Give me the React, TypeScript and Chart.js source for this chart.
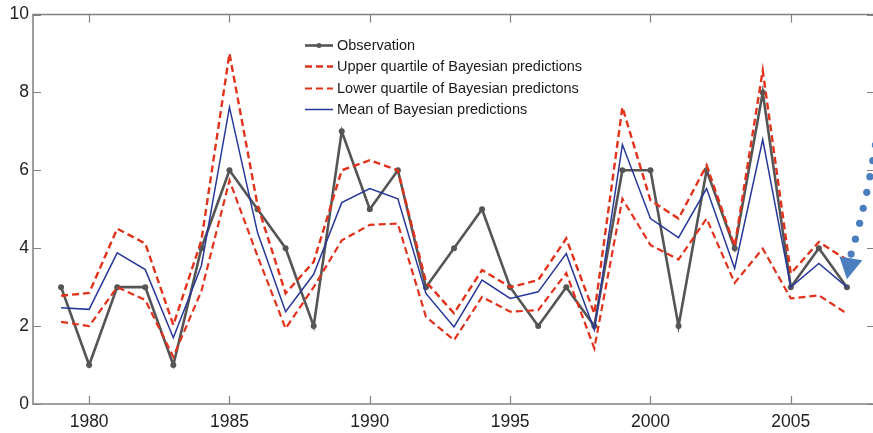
import { useEffect, useRef } from "react";
import { Chart, registerables } from "chart.js";

Chart.register(...registerables);

const years = [
  1979, 1980, 1981, 1982, 1983, 1984, 1985, 1986, 1987, 1988, 1989, 1990, 1991, 1992, 1993,
  1994, 1995, 1996, 1997, 1998, 1999, 2000, 2001, 2002, 2003, 2004, 2005, 2006, 2007,
];
const observation = [3, 1, 3, 3, 1, 4, 6, 5, 4, 2, 7, 5, 6, 3, 4, 5, 3, 2, 3, 2, 6, 6, 2, 6, 4, 8, 3, 4, 3];
const upperQuartile = [
  2.78, 2.85, 4.5, 4.12, 2.03, 4.2, 9.0, 5.1, 2.84, 3.65, 6.0, 6.26, 6.0, 3.14, 2.33, 3.44,
  3.0, 3.18, 4.25, 2.32, 7.62, 5.23, 4.76, 6.13, 4.05, 8.56, 3.35, 4.16, 3.7,
];
const lowerQuartile = [
  2.11, 2.0, 3.0, 2.67, 1.21, 2.9, 5.74, 3.8, 1.94, 3.0, 4.2, 4.6, 4.63, 2.24, 1.64, 2.75,
  2.37, 2.41, 3.36, 1.43, 5.27, 4.08, 3.71, 4.76, 3.11, 3.99, 2.71, 2.79, 2.32,
];
const meanPrediction = [
  2.47, 2.43, 3.88, 3.45, 1.7, 3.55, 7.62, 4.4, 2.37, 3.33, 5.17, 5.53, 5.27, 2.84, 1.98, 3.18,
  2.71, 2.88, 3.86, 1.9, 6.66, 4.76, 4.27, 5.53, 3.48, 6.79, 3.0, 3.61, 3.0,
];
const seriesLabels = [
  "Observation",
  "Upper quartile of Bayesian predictions",
  "Lower quartile of Bayesian predictons",
  "Mean of Bayesian predictions",
];
const xTicks = [1980, 1985, 1990, 1995, 2000, 2005];
const yTicks = [0, 2, 4, 6, 8, 10];

// annotation arrow (data coordinates): quadratic curve of dots + arrow head
const arrowCurve = [
  [2008.18, 7.49],
  [2007.83, 5.49],
  [2007.15, 3.85],
];
const arrowHead = [
  [2006.73, 3.79],
  [2007.55, 3.69],
  [2007.0, 3.2],
];

const FONT = '"Liberation Sans", Arial, sans-serif';
const AXIS_COLOR = "#808080";

const toPts = (vals: number[]) => years.map((y, i) => ({ x: y, y: vals[i] }));

const boxPlugin = {
  id: "boxPlugin",
  beforeDatasetsDraw(chart: any) {
    const { ctx, chartArea: a, scales } = chart;
    const xs = scales.x;
    const ys = scales.y;
    ctx.save();
    ctx.strokeStyle = AXIS_COLOR;
    ctx.lineWidth = 1.5;
    ctx.strokeRect(a.left, a.top, a.right - a.left, a.bottom - a.top);
    ctx.lineWidth = 1.2;
    ctx.beginPath();
    const tl = 8;
    for (const t of xTicks) {
      const px = Math.round(xs.getPixelForValue(t)) + 0.5;
      ctx.moveTo(px, a.bottom);
      ctx.lineTo(px, a.bottom - tl);
      ctx.moveTo(px, a.top);
      ctx.lineTo(px, a.top + tl);
    }
    for (const t of yTicks) {
      const py = Math.round(ys.getPixelForValue(t)) + 0.5;
      ctx.moveTo(a.left, py);
      ctx.lineTo(a.left + tl, py);
      ctx.moveTo(a.right, py);
      ctx.lineTo(a.right - tl, py);
    }
    ctx.stroke();
    ctx.restore();
  },
  afterDraw(chart: any) {
    const { ctx, chartArea: a, scales } = chart;
    const xs = scales.x;
    const ys = scales.y;
    // legend
    ctx.save();
    const x0 = a.left + 272;
    const len = 28;
    const tx = a.left + 304;
    let y = a.top + 30;
    const rowH = 21.6;
    chart.data.datasets.forEach((ds: any, i: number) => {
      const yy = Math.round(y + i * rowH) + 0.5;
      ctx.strokeStyle = ds.borderColor;
      ctx.lineWidth = ds.borderWidth;
      ctx.setLineDash(ds.borderDash || []);
      ctx.beginPath();
      ctx.moveTo(x0, yy);
      ctx.lineTo(x0 + len, yy);
      ctx.stroke();
      ctx.setLineDash([]);
      if (ds.pointRadius > 0) {
        ctx.fillStyle = ds.pointBackgroundColor;
        ctx.beginPath();
        ctx.arc(x0 + len / 2, yy, 2.5, 0, Math.PI * 2);
        ctx.fill();
      }
      ctx.fillStyle = "#1a1a1a";
      ctx.font = `14.5px ${FONT}`;
      ctx.textBaseline = "middle";
      ctx.textAlign = "left";
      ctx.fillText(ds.label, tx, yy + 0.5);
    });
    ctx.restore();

    // arrow annotation
    ctx.save();
    const p = arrowCurve.map(([vx, vy]) => [xs.getPixelForValue(vx), ys.getPixelForValue(vy)]);
    const bez = (t: number) => [
      (1 - t) * (1 - t) * p[0][0] + 2 * (1 - t) * t * p[1][0] + t * t * p[2][0],
      (1 - t) * (1 - t) * p[0][1] + 2 * (1 - t) * t * p[1][1] + t * t * p[2][1],
    ];
    // approximate length
    let L = 0;
    let prev = bez(0);
    const N = 200;
    const cum: number[] = [0];
    for (let k = 1; k <= N; k++) {
      const q = bez(k / N);
      L += Math.hypot(q[0] - prev[0], q[1] - prev[1]);
      cum.push(L);
      prev = q;
    }
    const spacing = 16;
    ctx.fillStyle = "#4a7ebf";
    for (let d = L; d >= 0; d -= spacing) {
      let k = 0;
      while (k < N && cum[k] < d) k++;
      const q = bez(k / N);
      ctx.beginPath();
      ctx.arc(q[0], q[1], 3.6, 0, Math.PI * 2);
      ctx.fill();
    }
    const h = arrowHead.map(([vx, vy]) => [xs.getPixelForValue(vx), ys.getPixelForValue(vy)]);
    ctx.beginPath();
    ctx.moveTo(h[0][0], h[0][1]);
    ctx.lineTo(h[1][0], h[1][1]);
    ctx.lineTo(h[2][0], h[2][1]);
    ctx.closePath();
    ctx.fill();
    ctx.restore();
  },
};

export default function App() {
  const ref = useRef<HTMLCanvasElement | null>(null);

  useEffect(() => {
    document.body.style.margin = "0";
    document.body.style.overflow = "hidden";
    document.documentElement.style.overflow = "hidden";
    const canvas = ref.current;
    if (!canvas) return;
    const chart = new Chart(canvas, {
      type: "line",
      data: {
        datasets: [
          {
            label: seriesLabels[0],
            data: toPts(observation),
            borderColor: "#555555",
            backgroundColor: "#555555",
            borderWidth: 2.6,
            pointRadius: 3,
            pointBackgroundColor: "#555555",
            pointBorderWidth: 0,
            tension: 0,
            order: 3,
          },
          {
            label: seriesLabels[1],
            data: toPts(upperQuartile),
            borderColor: "#e2321c",
            backgroundColor: "#e2321c",
            borderWidth: 2.4,
            borderDash: [7, 4],
            pointRadius: 0,
            tension: 0,
            order: 2,
          },
          {
            label: seriesLabels[2],
            data: toPts(lowerQuartile),
            borderColor: "#e2321c",
            backgroundColor: "#e2321c",
            borderWidth: 2.2,
            borderDash: [7, 4],
            pointRadius: 0,
            tension: 0,
            order: 2,
          },
          {
            label: seriesLabels[3],
            data: toPts(meanPrediction),
            borderColor: "#27379a",
            backgroundColor: "#27379a",
            borderWidth: 1.5,
            pointRadius: 0,
            tension: 0,
            order: 1,
          },
        ],
      },
      options: {
        animation: false,
        responsive: false,
        maintainAspectRatio: false,
        layout: { padding: { top: 13, right: 5, left: 0, bottom: 0 } },
        plugins: { legend: { display: false }, tooltip: { enabled: false } },
        scales: {
          x: {
            type: "linear",
            min: 1978,
            max: 2008,
            grid: { display: false, drawTicks: false },
            border: { display: false },
            afterBuildTicks: (s: any) => {
              s.ticks = xTicks.map((v) => ({ value: v }));
            },
            afterFit: (s: any) => {
              s.height = 29;
            },
            ticks: {
              padding: 8,
              color: "#222222",
              font: { family: FONT, size: 17.5 },
              maxRotation: 0,
              autoSkip: false,
              callback: (v: any) => String(v),
            },
          },
          y: {
            min: 0,
            max: 10,
            grid: { display: false, drawTicks: false },
            border: { display: false },
            afterBuildTicks: (s: any) => {
              s.ticks = yTicks.map((v) => ({ value: v }));
            },
            afterFit: (s: any) => {
              s.width = 33;
            },
            ticks: {
              padding: 4,
              color: "#222222",
              font: { family: FONT, size: 17.5 },
              callback: (v: any) => String(v),
            },
          },
        },
      },
      plugins: [boxPlugin],
    });
    return () => chart.destroy();
  }, []);

  return (
    <div style={{ position: "fixed", left: 0, top: 0, width: 880, height: 433, background: "#fff" }}>
      <canvas ref={ref} width={880} height={433} style={{ width: 880, height: 433, display: "block" }} />
    </div>
  );
}
